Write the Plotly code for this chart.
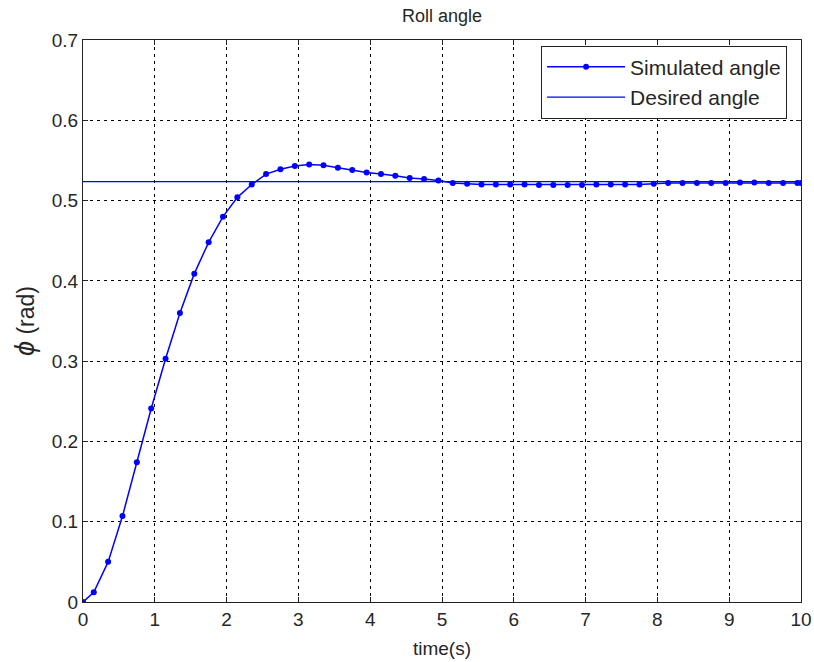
import plotly.graph_objects as go

time_s = [0, 0.15, 0.35, 0.55, 0.75, 0.95, 1.15, 1.35, 1.55, 1.75, 1.95,
          2.15, 2.35, 2.55, 2.75, 2.95, 3.15, 3.35, 3.55, 3.75, 3.95,
          4.15, 4.35, 4.55, 4.75, 4.95, 5.15, 5.35, 5.55, 5.75, 5.95,
          6.15, 6.35, 6.55, 6.75, 6.95, 7.15, 7.35, 7.55, 7.75, 7.95,
          8.15, 8.35, 8.55, 8.75, 8.95, 9.15, 9.35, 9.55, 9.75, 9.95, 10.0]
simulated = [0, 0.012, 0.05, 0.107, 0.174, 0.241, 0.303, 0.36, 0.409, 0.448, 0.48,
             0.504, 0.52, 0.533, 0.539, 0.543, 0.545, 0.544, 0.541, 0.538, 0.535,
             0.533, 0.531, 0.528, 0.527, 0.525, 0.522, 0.521, 0.520, 0.520, 0.520,
             0.520, 0.5195, 0.5195, 0.5195, 0.5195, 0.520, 0.520, 0.520, 0.520, 0.521,
             0.522, 0.522, 0.522, 0.522, 0.522, 0.5225, 0.5225, 0.522, 0.522, 0.522, 0.522]
desired_t = [0, 10]
desired = [0.5236, 0.5236]

x_ticks = [0, 1, 2, 3, 4, 5, 6, 7, 8, 9, 10]
y_ticks = [0, 0.1, 0.2, 0.3, 0.4, 0.5, 0.6, 0.7]
y_labels = ["0", "0.1", "0.2", "0.3", "0.4", "0.5", "0.6", "0.7"]

BLUE = "rgb(0,0,255)"
FONT = "Liberation Sans, Arial, sans-serif"
TXT = "#262626"

fig = go.Figure()
fig.add_trace(go.Scatter(x=time_s, y=simulated, mode="lines+markers",
                         name="Simulated angle",
                         line=dict(color=BLUE, width=1.5),
                         marker=dict(color=BLUE, size=6)))
fig.add_trace(go.Scatter(x=desired_t, y=desired, mode="lines",
                         name="Desired angle",
                         line=dict(color=BLUE, width=1.2)))

axis_common = dict(showline=True, linecolor="#222", linewidth=1.2, mirror="allticks",
                   ticks="inside", ticklen=5, tickcolor="#222", automargin=False,
                   showgrid=True, gridcolor="black", gridwidth=1, griddash="3px,4px",
                   zeroline=False, tickfont=dict(family=FONT, size=19, color=TXT))

fig.update_xaxes(range=[0, 10], tickvals=x_ticks, ticktext=[str(v) for v in x_ticks],
                 title=dict(text="time(s)", font=dict(family=FONT, size=19, color=TXT),
                            standoff=12),
                 **axis_common)
fig.update_yaxes(range=[0, 0.7], tickvals=y_ticks, ticktext=y_labels,
                 title=dict(text="<span style='font-size:27px'><i>ϕ</i></span>"
                                 "<span style='font-size:23px'> (rad)</span>",
                            font=dict(family=FONT, size=17, color=TXT), standoff=12),
                 **axis_common)

fig.update_layout(
    width=814, height=662,
    margin=dict(l=83, r=13, t=40, b=60, autoexpand=False),
    paper_bgcolor="white", plot_bgcolor="white",
    title=dict(text="Roll angle", x=0.543, xanchor="center", y=0.977, yanchor="middle",
               font=dict(family=FONT, size=18, color=TXT)),
    legend=dict(x=0.638, y=0.99, xanchor="left", yanchor="top",
                bgcolor="white", bordercolor="#222", borderwidth=1,
                font=dict(family=FONT, size=21, color=TXT),
                itemwidth=78, tracegroupgap=0),
    showlegend=True,
)

fig.write_html("out.html")
